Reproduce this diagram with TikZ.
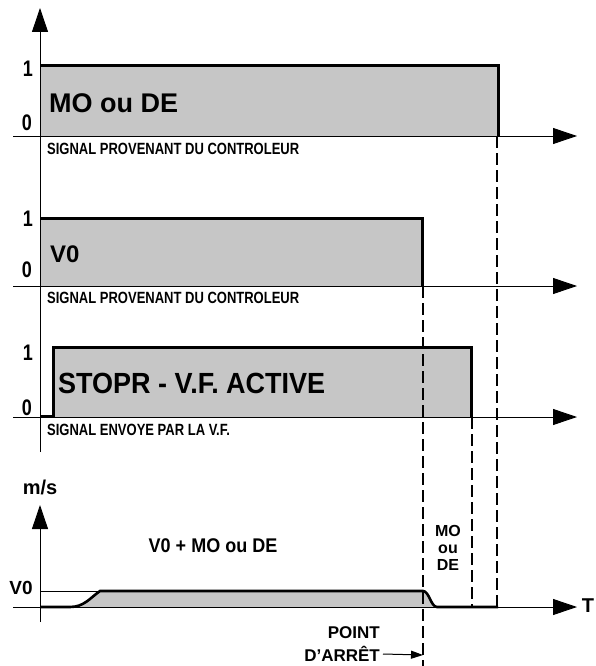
\documentclass[tikz,border=0pt]{standalone}
\usepackage{fontspec}
\setmainfont{Liberation Sans}
\usetikzlibrary{arrows.meta,positioning}
\definecolor{stipple}{HTML}{C6C6C6}
\newcommand{\tall}[1]{\scalebox{1}[1.25]{#1}}

\begin{document}
\begin{tikzpicture}[
  x=1pt, y=-1pt,
  axis/.style={line width=0.9pt, -{Triangle[length=24pt,width=16pt]}},
  signal/.style={line width=3pt, line join=miter},
  area/.style={fill=stipple},
  guide/.style={line width=1.3pt, dash pattern=on 12pt off 5pt},
  level/.style={inner sep=0pt, font=\fontsize{18}{18}\selectfont\bfseries},
  tag/.style={anchor=north west, inner sep=0pt, font=\fontsize{13}{13}\selectfont\bfseries},
  big/.style={anchor=west, inner sep=0pt, font=\fontsize{27}{27}\selectfont\bfseries},
  mid/.style={inner sep=0pt, font=\fontsize{18}{18}\selectfont\bfseries}
]
\useasboundingbox (0,0) rectangle (595,666);

\coordinate (ytop0) at (40,452);
\coordinate (ytop1) at (40,8);
\coordinate (ybot0) at (40,622);
\coordinate (ybot1) at (40,505);
\coordinate (xmo0) at (13,136);
\coordinate (xmo1) at (577,136);
\coordinate (xvo0) at (13,286);
\coordinate (xvo1) at (577,286);
\coordinate (xvf0) at (13,417);
\coordinate (xvf1) at (577,417);
\coordinate (xsp0) at (13,607);
\coordinate (xsp1) at (577,607);

% MO ou DE
\fill[area] (40,66) rectangle (498,136);
\draw[signal] (40,66) -- (498,66) -- (498,136);
% V0
\fill[area] (40,218) rectangle (422,286);
\draw[signal] (40,218) -- (422,218) -- (422,286);
% STOPR
\fill[area] (53,347) rectangle (471,417);
\draw[signal] (40,416) -- (53,416) -- (53,347) -- (471,347) -- (471,417);
% vitesse
\fill[area] (72,607) .. controls (84,607) and (90,598) .. (100,591) -- (423,591)
  .. controls (428,591) and (431,607) .. (437,607) -- cycle;
\draw[line width=0.8pt] (40,591) -- (100,591);
\draw[signal, line width=2.6pt] (40,607) -- (70,607) .. controls (84,607) and (90,598) .. (100,591)
  -- (423,591) .. controls (429,591) and (431,607) .. (437,607) -- (498,607);

\draw[axis] (ytop0) -- (ytop1);
\draw[axis] (ybot0) -- (ybot1);
\draw[axis] (xmo0) -- (xmo1);
\draw[axis] (xvo0) -- (xvo1);
\draw[axis] (xvf0) -- (xvf1);
\draw[axis] (xsp0) -- (xsp1);

\coordinate (mo0) at (497,136);
\coordinate (mo1) at (497,607);
\coordinate (vo0) at (423,286);
\coordinate (vo1) at (423,666);
\coordinate (vf0) at (472,417);
\coordinate (vf1) at (472,607);
\draw[guide] (mo0) -- (mo1);
\draw[guide] (vo0) -- (vo1);
\draw[guide] (vf0) -- (vf1);

\node[level] (mohi) at (28,69) {\tall{1}};
\node[level] (molo) at (27,123) {\tall{0}};
\node[level] (vohi) at (28,219) {\tall{1}};
\node[level] (volo) at (27,270) {\tall{0}};
\node[level] (vfhi) at (28,353) {\tall{1}};
\node[level] (vflo) at (27,408) {\tall{0}};

\node[big] (molabel) at (49,103) {MO ou DE};
\node[big, font=\fontsize{24}{24}\selectfont\bfseries] (volabel) at (50,254) {V0};
\node[big] (vflabel) at (58,383) {\scalebox{1}[1.08]{STOPR - V.F. ACTIVE}};

\node[tag] (motag) at (47,143) {\tall{SIGNAL PROVENANT DU CONTROLEUR}};
\node[tag] (votag) at (47,292) {\tall{SIGNAL PROVENANT DU CONTROLEUR}};
\node[tag] (vftag) at (47,424) {\tall{SIGNAL ENVOYE PAR LA V.F.}};

\node[mid, font=\fontsize{20}{20}\selectfont\bfseries] (unit) at (40,487) {m/s};
\node[mid, font=\fontsize{19}{19}\selectfont\bfseries] (vzero) at (21,588) {V0};
\node[mid] (sum) at (213,546) {\scalebox{1}[1.1]{V0 + MO ou DE}};
\node[mid, font=\fontsize{16}{17}\selectfont\bfseries, align=center] (modest) at (448,548) {MO\\ou\\DE};
\node[mid, font=\fontsize{20}{20}\selectfont\bfseries] (tlabel) at (588,606) {T};

\node[mid, font=\fontsize{17}{17}\selectfont\bfseries, anchor=east] (point) at (380,633) {POINT};
\node[mid, font=\fontsize{17}{17}\selectfont\bfseries, anchor=east] (arret) at (380,654) {D'ARRÊT};
\coordinate (stop) at (423,655);
\draw[line width=1pt, -{Triangle[length=12pt,width=8pt]}] ([xshift=3pt]arret.east) -- (stop);
\end{tikzpicture}
\end{document}
